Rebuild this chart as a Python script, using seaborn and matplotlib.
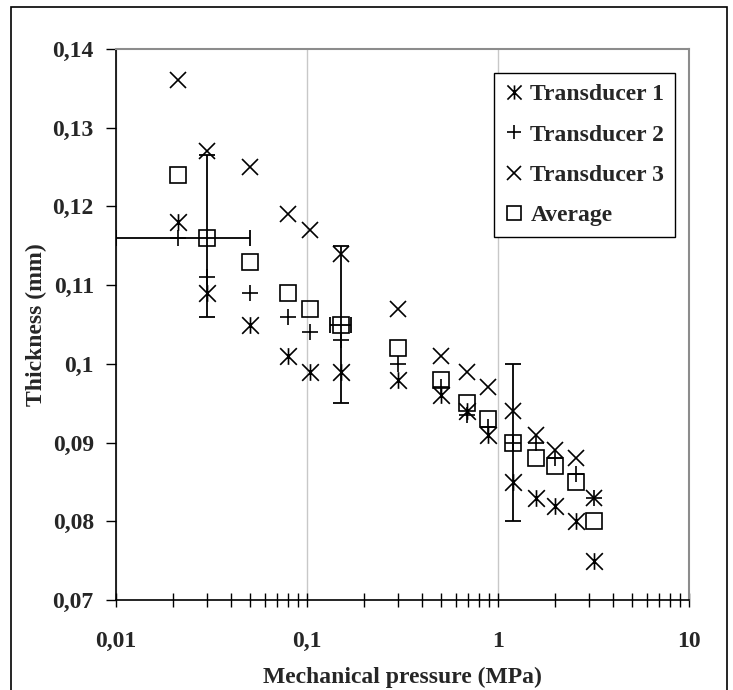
import numpy as np
import pandas as pd
import matplotlib
matplotlib.use("Agg")
import matplotlib.pyplot as plt
import seaborn as sns
from matplotlib.path import Path
from matplotlib.patches import Rectangle
from matplotlib.ticker import FixedLocator, NullFormatter, LogLocator

# ---- data ----
pressure = [0.021, 0.03, 0.05, 0.08, 0.104, 0.15, 0.3, 0.5, 0.69, 0.885, 1.2, 1.58, 2.0, 2.55, 3.2]
transducer1 = [0.118, 0.109, 0.105, 0.101, 0.099, 0.099, 0.098, 0.096, 0.094, 0.091, 0.085, 0.083, 0.082, 0.080, 0.075]
transducer2 = [0.116, 0.111, 0.109, 0.106, 0.104, 0.103, 0.100, 0.097, 0.0935, 0.092, 0.090, 0.090, 0.088, 0.086, 0.083]
transducer3 = [0.136, 0.127, 0.125, 0.119, 0.117, 0.114, 0.107, 0.101, 0.099, 0.097, 0.094, 0.091, 0.089, 0.088, 0.083]
average = [0.124, 0.116, 0.113, 0.109, 0.107, 0.105, 0.102, 0.098, 0.095, 0.093, 0.090, 0.088, 0.087, 0.085, 0.080]

err_x = [0.03, 0.15, 1.2]
err_y = [0.116, 0.105, 0.090]
err_y_low = [0.010, 0.010, 0.010]
err_y_high = [0.0105, 0.010, 0.010]
err_x_low = [0.02, 0.018, 0.0]
err_x_high = [0.02, 0.020, 0.0]

x_ticks = [0.01, 0.1, 1, 10]
x_ticklabels = ["0,01", "0,1", "1", "10"]
y_ticks = [0.07, 0.08, 0.09, 0.10, 0.11, 0.12, 0.13, 0.14]
y_ticklabels = ["0,07", "0,08", "0,09", "0,1", "0,11", "0,12", "0,13", "0,14"]

series_names = ["Transducer 1", "Transducer 2", "Transducer 3", "Average"]

# ---- styling ----
sns.set_theme(style="white")
plt.rcParams["font.family"] = ["Liberation Serif", "DejaVu Serif"]
plt.rcParams["font.weight"] = "bold"

asterisk = Path([(0, -1), (0, 1), (-1, -1), (1, 1), (-1, 1), (1, -1)],
                [Path.MOVETO, Path.LINETO, Path.MOVETO, Path.LINETO, Path.MOVETO, Path.LINETO])

fig = plt.figure(figsize=(7.33, 6.90), dpi=100)
ax = fig.add_axes([116 / 733, 1 - 600 / 690, 573 / 733, 551 / 690])

# outer frame of the figure
fig.patches.append(Rectangle((11 / 733, -0.05), 716 / 733, 1.05 - 7 / 690,
                             transform=fig.transFigure, fill=False,
                             edgecolor="black", linewidth=1.2))

df = pd.DataFrame({"pressure": pressure, "Transducer 1": transducer1,
                   "Transducer 2": transducer2, "Transducer 3": transducer3,
                   "Average": average})

markers = {"Transducer 1": asterisk, "Transducer 2": "+", "Transducer 3": "x", "Average": "s"}
msizes = {"Transducer 1": 12, "Transducer 2": 12, "Transducer 3": 12, "Average": 12}

for name in series_names:
    sns.lineplot(data=df, x="pressure", y=name, ax=ax, marker=markers[name],
                 linestyle="", color="black", markerfacecolor="none",
                 markeredgecolor="black", markeredgewidth=1.2,
                 markersize=msizes[name], estimator=None, sort=False,
                 label=name, zorder=3)

ax.errorbar(err_x, err_y, yerr=[err_y_low, err_y_high],
            xerr=[err_x_low, err_x_high], fmt="none", ecolor="black",
            elinewidth=1.3, capsize=5.5, capthick=1.3, zorder=2)

ax.set_xscale("log")
ax.set_xlim(0.01, 10)
ax.set_ylim(0.07, 0.14)

ax.xaxis.set_major_locator(FixedLocator(x_ticks))
ax.set_xticklabels(x_ticklabels)
ax.xaxis.set_minor_locator(LogLocator(base=10, subs=np.arange(2, 10)))
ax.xaxis.set_minor_formatter(NullFormatter())
ax.yaxis.set_major_locator(FixedLocator(y_ticks))
ax.set_yticklabels(y_ticklabels)

ax.grid(axis="x", which="major", color="#c8c8c8", linewidth=1.0)
ax.grid(axis="y", visible=False)

for s in ["left", "bottom"]:
    ax.spines[s].set_color("black")
    ax.spines[s].set_linewidth(1.2)
for s in ["top", "right"]:
    ax.spines[s].set_color("#8c8c8c")
    ax.spines[s].set_linewidth(1.5)

ax.tick_params(axis="x", which="both", direction="inout", length=10, width=1.0,
               color="black", bottom=True, labelsize=17, pad=17)
ax.tick_params(axis="y", which="major", direction="out", length=7, width=1.0,
               color="black", left=True, labelsize=17, pad=9)
for lab in ax.get_xticklabels() + ax.get_yticklabels():
    lab.set_fontweight("bold")

ax.set_xlabel("Mechanical pressure (MPa)", fontsize=17, fontweight="bold", labelpad=11)
ax.set_ylabel("Thickness (mm)", fontsize=17, fontweight="bold", labelpad=4)

leg = ax.legend(loc="upper right", bbox_to_anchor=(0.9756, 0.9564), frameon=True,
                fancybox=False, edgecolor="black", framealpha=1,
                prop={"family": "Liberation Serif", "weight": "bold", "size": 17},
                handlelength=0.8, handletextpad=0.3, labelspacing=0.8,
                borderpad=0.45, borderaxespad=0.0, markerscale=0.85)
leg.get_frame().set_linewidth(1.0)

fig.savefig("out.png", dpi=100)
